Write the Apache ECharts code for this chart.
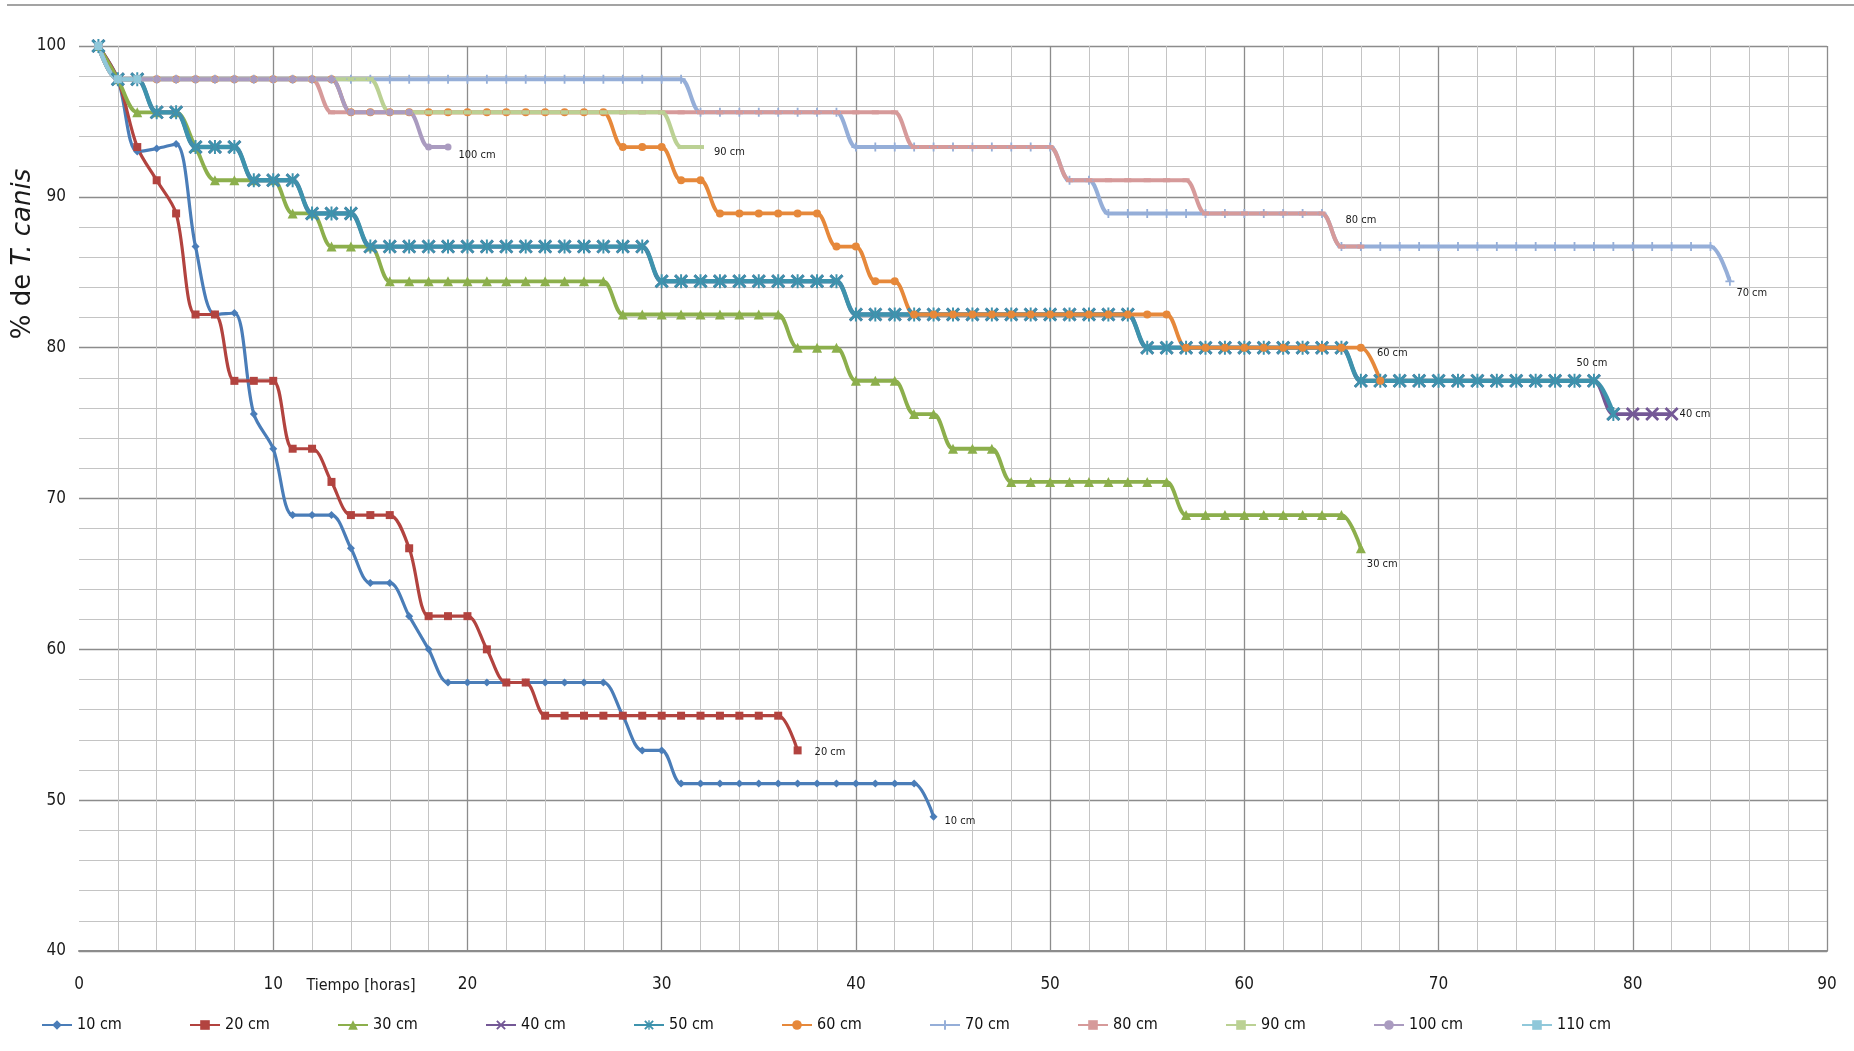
<!DOCTYPE html>
<html>
<head>
<meta charset="utf-8">
<style>
html,body{margin:0;padding:0;background:#ffffff;}
#c{width:1854px;height:1051px;}
</style>
<script src="https://cdn.jsdelivr.net/npm/echarts@6.0.0/dist/echarts.min.js"></script>
</head>
<body>
<div id="c"></div>
<script>
// ---------- DATA ----------
const HOURS = [1,2,3,4,5,6,7,8,9,10,11,12,13,14,15,16,17,18,19,20,21,22,23,24,25,26,27,28,29,30,
  31,32,33,34,35,36,37,38,39,40,41,42,43,44,45,46,47,48,49,50,51,52,53,54,55,56,57,58,59,60,
  61,62,63,64,65,66,67,68,69,70,71,72,73,74,75,76,77,78,79,80,81,82,83,84,85];
const SERIES_NAMES = ['10 cm','20 cm','30 cm','40 cm','50 cm','60 cm','70 cm','80 cm','90 cm','100 cm','110 cm'];
const X_TICKS = [0,10,20,30,40,50,60,70,80,90];
const Y_TICKS = [40,50,60,70,80,90,100];
const X_TITLE = 'Tiempo [horas]';
const Y_TITLE_A = '% de ';
const Y_TITLE_B = 'T. canis';

const v10 = [100, 97.8, 93.0, 93.2, 93.5, 86.7, 82.2, 82.3, 75.6, 73.3,
  68.9, 68.9, 68.9, 66.7, 64.4, 64.4, 62.2, 60.0,
  57.8, 57.8, 57.8, 57.8, 57.8, 57.8, 57.8, 57.8, 57.8,
  55.6, 53.3, 53.3,
  51.1, 51.1, 51.1, 51.1, 51.1, 51.1, 51.1, 51.1, 51.1, 51.1, 51.1, 51.1, 51.1,
  48.9];
const v20 = [100, 97.8, 93.3, 91.1, 88.9, 82.2, 82.2, 77.8, 77.8, 77.8,
  73.3, 73.3, 71.1, 68.9, 68.9, 68.9, 66.7, 62.2, 62.2, 62.2,
  60.0, 57.8, 57.8,
  55.6, 55.6, 55.6, 55.6, 55.6, 55.6, 55.6, 55.6, 55.6, 55.6, 55.6, 55.6, 55.6,
  53.3];
const v30 = [100, 97.8, 95.6, 95.6, 95.6, 93.3, 91.1, 91.1, 91.1, 91.1,
  88.9, 88.9, 86.7, 86.7, 86.7,
  84.4, 84.4, 84.4, 84.4, 84.4, 84.4, 84.4, 84.4, 84.4, 84.4, 84.4, 84.4,
  82.2, 82.2, 82.2, 82.2, 82.2, 82.2, 82.2, 82.2, 82.2,
  80.0, 80.0, 80.0,
  77.8, 77.8, 77.8,
  75.6, 75.6,
  73.3, 73.3, 73.3,
  71.1, 71.1, 71.1, 71.1, 71.1, 71.1, 71.1, 71.1, 71.1,
  68.9, 68.9, 68.9, 68.9, 68.9, 68.9, 68.9, 68.9, 68.9,
  66.7];
const v40 = [100, 97.8, 97.8, 95.6, 95.6, 93.3, 93.3, 93.3, 91.1, 91.1, 91.1, 88.9, 88.9, 88.9,
  86.7, 86.7, 86.7, 86.7, 86.7, 86.7, 86.7, 86.7, 86.7, 86.7, 86.7, 86.7, 86.7, 86.7, 86.7,
  84.4, 84.4, 84.4, 84.4, 84.4, 84.4, 84.4, 84.4, 84.4, 84.4,
  82.2, 82.2, 82.2, 82.2, 82.2, 82.2, 82.2, 82.2, 82.2, 82.2, 82.2, 82.2, 82.2, 82.2, 82.2,
  80.0, 80.0, 80.0, 80.0, 80.0, 80.0, 80.0, 80.0, 80.0, 80.0, 80.0,
  77.8, 77.8, 77.8, 77.8, 77.8, 77.8, 77.8, 77.8, 77.8, 77.8, 77.8, 77.8, 77.8,
  75.6, 75.6, 75.6, 75.6];
const v50 = [100, 97.8, 97.8, 95.6, 95.6, 93.3, 93.3, 93.3, 91.1, 91.1, 91.1, 88.9, 88.9, 88.9,
  86.7, 86.7, 86.7, 86.7, 86.7, 86.7, 86.7, 86.7, 86.7, 86.7, 86.7, 86.7, 86.7, 86.7, 86.7,
  84.4, 84.4, 84.4, 84.4, 84.4, 84.4, 84.4, 84.4, 84.4, 84.4,
  82.2, 82.2, 82.2, 82.2, 82.2, 82.2, 82.2, 82.2, 82.2, 82.2, 82.2, 82.2, 82.2, 82.2, 82.2,
  80.0, 80.0, 80.0, 80.0, 80.0, 80.0, 80.0, 80.0, 80.0, 80.0, 80.0,
  77.8, 77.8, 77.8, 77.8, 77.8, 77.8, 77.8, 77.8, 77.8, 77.8, 77.8, 77.8, 77.8,
  75.6];
const v60 = [100,
  97.8, 97.8, 97.8, 97.8, 97.8, 97.8, 97.8, 97.8, 97.8, 97.8, 97.8, 97.8,
  95.6, 95.6, 95.6, 95.6, 95.6, 95.6, 95.6, 95.6, 95.6, 95.6, 95.6, 95.6, 95.6, 95.6,
  93.3, 93.3, 93.3,
  91.1, 91.1,
  88.9, 88.9, 88.9, 88.9, 88.9, 88.9,
  86.7, 86.7,
  84.4, 84.4,
  82.2, 82.2, 82.2, 82.2, 82.2, 82.2, 82.2, 82.2, 82.2, 82.2, 82.2, 82.2, 82.2, 82.2,
  80.0, 80.0, 80.0, 80.0, 80.0, 80.0, 80.0, 80.0, 80.0, 80.0,
  77.8];
const v70 = [100,
  97.8, 97.8, 97.8, 97.8, 97.8, 97.8, 97.8, 97.8, 97.8, 97.8,
  97.8, 97.8, 97.8, 97.8, 97.8, 97.8, 97.8, 97.8, 97.8, 97.8,
  97.8, 97.8, 97.8, 97.8, 97.8, 97.8, 97.8, 97.8, 97.8, 97.8,
  95.6, 95.6, 95.6, 95.6, 95.6, 95.6, 95.6, 95.6,
  93.3, 93.3, 93.3, 93.3, 93.3, 93.3, 93.3, 93.3, 93.3, 93.3, 93.3,
  91.1, 91.1,
  88.9, 88.9, 88.9, 88.9, 88.9, 88.9, 88.9, 88.9, 88.9, 88.9, 88.9, 88.9,
  86.7, 86.7, 86.7, 86.7, 86.7, 86.7, 86.7, 86.7, 86.7, 86.7,
  86.7, 86.7, 86.7, 86.7, 86.7, 86.7, 86.7, 86.7, 86.7, 86.7,
  84.4];
const v80 = [100,
  97.8, 97.8, 97.8, 97.8, 97.8, 97.8, 97.8, 97.8, 97.8, 97.8, 97.8,
  95.6, 95.6, 95.6, 95.6, 95.6, 95.6, 95.6, 95.6, 95.6, 95.6,
  95.6, 95.6, 95.6, 95.6, 95.6, 95.6, 95.6, 95.6, 95.6, 95.6,
  95.6, 95.6, 95.6, 95.6, 95.6, 95.6, 95.6, 95.6, 95.6, 95.6,
  93.3, 93.3, 93.3, 93.3, 93.3, 93.3, 93.3, 93.3,
  91.1, 91.1, 91.1, 91.1, 91.1, 91.1, 91.1,
  88.9, 88.9, 88.9, 88.9, 88.9, 88.9, 88.9,
  86.7, 86.7];
const v90 = [100,
  97.8, 97.8, 97.8, 97.8, 97.8, 97.8, 97.8, 97.8, 97.8, 97.8, 97.8, 97.8, 97.8, 97.8,
  95.6, 95.6, 95.6, 95.6, 95.6, 95.6, 95.6, 95.6, 95.6, 95.6, 95.6, 95.6, 95.6, 95.6, 95.6,
  93.3, 93.3];
const v100 = [100,
  97.8, 97.8, 97.8, 97.8, 97.8, 97.8, 97.8, 97.8, 97.8, 97.8, 97.8, 97.8,
  95.6, 95.6, 95.6, 95.6,
  93.3, 93.3];
const v110 = [100, 97.8, 97.8];

const VALUES = [v10, v20, v30, v40, v50, v60, v70, v80, v90, v100, v110];

// ---------- FONT PICK (condensed face if one is installed) ----------
function fontAvailable(name) {
  const ctx = document.createElement('canvas').getContext('2d');
  const s = 'mmmmmmmmmmlli 0123456789 cm';
  let diff = false;
  ['monospace', 'serif'].forEach(base => {
    ctx.font = '40px ' + base; const w1 = ctx.measureText(s).width;
    ctx.font = '40px "' + name + '", ' + base; const w2 = ctx.measureText(s).width;
    if (Math.abs(w1 - w2) > 0.5) diff = true;
  });
  return diff;
}
const NARROW_CANDIDATES = ['Liberation Sans Narrow', 'DejaVu Sans Condensed', 'Roboto Condensed', 'Open Sans Condensed', 'Arial Narrow'];
let NARROW = null;
for (const f of NARROW_CANDIDATES) { if (fontAvailable(f)) { NARROW = f; break; } }
const FONT_NARROW = NARROW ? '"' + NARROW + '", sans-serif' : '"Liberation Sans", sans-serif';
const K = NARROW === 'Liberation Sans Narrow' ? 1.12 : (NARROW ? 1 : 0.9);

// ---------- STYLE ----------
const PX = 'path://M0,1.4 L1.4,0 L10,8.6 L8.6,10 Z M8.6,0 L10,1.4 L1.4,10 L0,8.6 Z';
const PSTAR = 'path://M0,1.4 L1.4,0 L10,8.6 L8.6,10 Z M8.6,0 L10,1.4 L1.4,10 L0,8.6 Z M4.3,0 L5.7,0 L5.7,10 L4.3,10 Z';
const PPLUS = 'path://M4,0 L6,0 L6,10 L4,10 Z M0,4 L10,4 L10,6 L0,6 Z';
const STYLES = [
  {color:'#4A7DB8', symbol:'diamond', size:8, width:3.2, lab:{at:null, position:'right', offset:[2,4]}},
  {color:'#B2433F', symbol:'rect', size:8, width:3.2, lab:{at:null, position:'right', offset:[8,2]}},
  {color:'#8CAF4C', symbol:'triangle', size:10, width:3.8, lab:{at:null, position:'right', offset:[-4,16]}},
  {color:'#745896', symbol:PX, size:14, width:3.8, lab:{at:null, position:'right', offset:[-4,0]}},
  {color:'#3E93AD', symbol:PSTAR, size:14, width:4.4, lab:{at:78, position:'top', offset:[-2,0]}},
  {color:'#E6883A', symbol:'circle', size:8, width:3.8, lab:{at:null, position:'top', offset:[12,-13]}},
  {color:'#95AED8', symbol:PPLUS, size:9, width:4, lab:{at:null, position:'right', offset:[-3,12]}},
  {color:'#D69A9A', symbol:'rect', size:[7,4], width:4, lab:{at:null, position:'top', offset:[0,-14]}},
  {color:'#BBD194', symbol:'rect', size:[7,4], width:4, lab:{at:null, position:'right', offset:[5,5]}},
  {color:'#AA9BC0', symbol:'circle', size:7, width:4, lab:{at:null, position:'right', offset:[2,8]}},
  {color:'#90C8DA', symbol:'rect', size:8, width:4, lab:null}
];

const series = SERIES_NAMES.map((name, si) => {
  const st = STYLES[si];
  const vals = VALUES[si];
  let labIdx = -1;
  if (st.lab) {
    labIdx = st.lab.at === null ? vals.length - 1 : HOURS.indexOf(st.lab.at);
  }
  const data = vals.map((v, i) => {
    const item = {value: [HOURS[i], v]};
    if (i === labIdx) {
      item.label = {show: true, formatter: name, position: st.lab.position, offset: st.lab.offset,
        fontFamily: FONT_NARROW, fontSize: Math.round(11 * K), color: '#1a1a1a'};
    }
    return item;
  });
  return {
    name: name, type: 'line', xAxisIndex: 1, yAxisIndex: 1,
    data: data, smooth: 0.32,
    symbol: st.symbol, symbolSize: st.size, showSymbol: true,
    lineStyle: {color: st.color, width: st.width},
    itemStyle: {color: st.color, borderWidth: 0},
    label: {show: false},
    emphasis: {disabled: true},
    z: 3
  };
});

const LEG_LEFT0 = 41, LEG_STEP = 148;
const legends = SERIES_NAMES.map((n, i) => ({
  data: [n], left: LEG_LEFT0 + i * LEG_STEP, top: 1017, padding: 0,
  itemWidth: 30, itemHeight: 12, selectedMode: false,
  textStyle: {fontFamily: FONT_NARROW, fontSize: Math.round(16 * K), color: '#111'}
}));

const MINOR = '#c4c4c4', MAJOR = '#8c8c8c';
const option = {
  animation: false,
  backgroundColor: '#ffffff',
  grid: {left: 79, right: 27, top: 46, bottom: 100, containLabel: false},
  xAxis: [
    {type: 'value', min: 0, max: 90, interval: 2, position: 'bottom',
     axisLine: {show: false}, axisTick: {show: false}, axisLabel: {show: false},
     splitLine: {show: true, showMinLine: false, lineStyle: {color: MINOR, width: 1}}},
    {type: 'value', min: 0, max: 90, interval: 10, position: 'bottom',
     axisLine: {show: true, onZero: false, lineStyle: {color: MAJOR, width: 2}},
     axisTick: {show: false},
     axisLabel: {show: true, margin: 25, fontFamily: FONT_NARROW, fontSize: Math.round(17 * K), color: '#1a1a1a',
       formatter: v => X_TICKS.includes(v) ? String(v) : ''},
     splitLine: {show: true, showMinLine: false, lineStyle: {color: MAJOR, width: 1.3}}}
  ],
  yAxis: [
    {type: 'value', min: 40, max: 100, interval: 2, position: 'left',
     axisLine: {show: false}, axisTick: {show: false}, axisLabel: {show: false},
     splitLine: {show: true, lineStyle: {color: MINOR, width: 1}}},
    {type: 'value', min: 40, max: 100, interval: 10, position: 'left',
     axisLine: {show: false}, axisTick: {show: false},
     axisLabel: {show: true, margin: 13, fontFamily: FONT_NARROW, fontSize: Math.round(17 * K), color: '#1a1a1a',
       formatter: v => Y_TICKS.includes(v) ? String(v) : ''},
     splitLine: {show: true, lineStyle: {color: MAJOR, width: 1.3}}}
  ],
  legend: legends,
  series: series,
  graphic: [
    {type: 'line', shape: {x1: 7, y1: 5, x2: 1854, y2: 5}, style: {stroke: '#a3a3a3', lineWidth: 2}, silent: true},
    {type: 'text', x: 361, y: 986, silent: true,
     style: {text: X_TITLE, fontFamily: FONT_NARROW, fontSize: Math.round(16 * K), fill: '#1a1a1a', textAlign: 'center', textVerticalAlign: 'middle'}},
    {type: 'text', x: 23, y: 254, rotation: Math.PI / 2, silent: true,
     style: {text: '{a|' + Y_TITLE_A + '}{b|' + Y_TITLE_B + '}', textAlign: 'center', textVerticalAlign: 'middle', fill: '#1a1a1a',
       rich: {a: {fontFamily: 'DejaVu Sans', fontSize: 26, fill: '#1a1a1a'}, b: {fontFamily: 'DejaVu Sans', fontStyle: 'italic', fontSize: 26, fill: '#1a1a1a'}}}}
  ]
};

const chart = echarts.init(document.getElementById('c'), null, {renderer: 'canvas', width: 1854, height: 1051});
chart.setOption(option);
</script>
</body>
</html>
